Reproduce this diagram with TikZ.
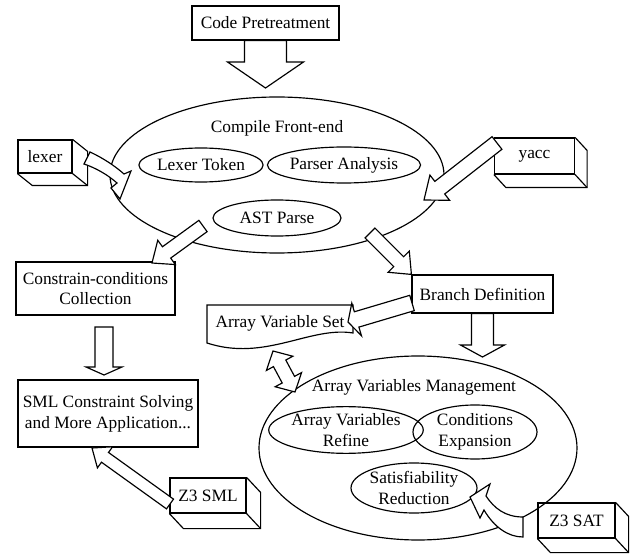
\documentclass[tikz,border=0pt]{standalone}
\usepackage{fontspec}
\setmainfont{Liberation Serif}
\usepackage{tikz}
\usetikzlibrary{calc,shapes.geometric}

\tikzset{
  box/.style={draw, rectangle, inner sep=0pt, align=center},
  ell/.style={draw, ellipse, inner sep=0pt, align=center},
  blk/.style={draw, fill=white, line join=miter}
}
% hollow block arrow: start, tip, half shaft, half head, head length (px)
\newcommand{\blockarrow}[5]{%
  \coordinate (ba-s) at #1; \coordinate (ba-e) at #2;
  \coordinate (ba-h) at ($(ba-e)!#5*0.6pt!(ba-s)$);
  \draw[blk] ($(ba-s)!#3*0.6pt!90:(ba-e)$) -- ($(ba-h)!#3*0.6pt!90:(ba-e)$) -- ($(ba-h)!#4*0.6pt!90:(ba-e)$) -- (ba-e) -- ($(ba-h)!#4*0.6pt!-90:(ba-e)$) -- ($(ba-h)!#3*0.6pt!-90:(ba-e)$) -- ($(ba-s)!#3*0.6pt!-90:(ba-e)$) -- cycle;}
\newcommand{\dblarrow}[5]{%
  \coordinate (ba-s) at #1; \coordinate (ba-e) at #2;
  \coordinate (ba-h) at ($(ba-e)!#5*0.6pt!(ba-s)$);
  \coordinate (ba-g) at ($(ba-s)!#5*0.6pt!(ba-e)$);
  \draw[blk] (ba-s) -- ($(ba-g)!#4*0.6pt!90:(ba-e)$) -- ($(ba-g)!#3*0.6pt!90:(ba-e)$) -- ($(ba-h)!#3*0.6pt!90:(ba-e)$) -- ($(ba-h)!#4*0.6pt!90:(ba-e)$) -- (ba-e) -- ($(ba-h)!#4*0.6pt!-90:(ba-e)$) -- ($(ba-h)!#3*0.6pt!-90:(ba-e)$) -- ($(ba-g)!#3*0.6pt!-90:(ba-e)$) -- ($(ba-g)!#4*0.6pt!-90:(ba-e)$) -- cycle;}
% depth of a 3d box
\newcommand{\boxdepth}[3]{%
  \draw (#1.north east) -- ++(#2,#3) -- ($(#1.south east)+(#2,#3)$) -- ($(#1.south west)+(#2,#3)$) -- (#1.south west);
  \draw (#1.south east) -- ++(#2,#3);}

\begin{document}
\begin{tikzpicture}[x=0.6pt, y=-0.6pt, line width=0.7pt, font=\fontsize{10.4pt}{12.5pt}\selectfont]
\useasboundingbox (0,0) rectangle (636,554);

\node (pre) [box, minimum width=88.2pt, minimum height=20.4pt] at (265.5,23) {Code Pretreatment};

% compile front-end
\node (front) [ell, minimum width=200.4pt, minimum height=93.6pt] at (277,175) {};
\node (fronttxt) at (277,128) {Compile Front-end};
\node (lextok) [ell, minimum width=72pt, minimum height=20.4pt] at (201,165) {Lexer Token};
\node (parser) [ell, minimum width=69.6pt, minimum height=21.6pt] at (344,165) {Parser Analysis};
\node (ast) [ell, minimum width=76.8pt, minimum height=21.6pt] at (277,218) {AST Parse};

\node (lexer) [box, minimum width=32.4pt, minimum height=19.8pt] at (45,156.5) {lexer};
\boxdepth{lexer}{15}{12}
\node (yacc) [box, minimum width=48pt, minimum height=21.6pt] at (534.5,156) {yacc};
\boxdepth{yacc}{12}{13}

\node (cons) [box, minimum width=95.4pt, minimum height=31.8pt] at (95.5,288.5) {Constrain-conditions\\Collection};
\node (sml) [box, minimum width=108pt, minimum height=40.2pt] at (108,413.5) {SML Constraint Solving\\and More Application...};
\node (z3sml) [box, minimum width=45.6pt, minimum height=21pt] at (208,495.5) {Z3 SML};
\boxdepth{z3sml}{14}{15}

\node (branch) [box, minimum width=84.6pt, minimum height=22.8pt] at (482.5,294) {Branch Definition};
\draw (207,305) -- (353,305) -- (353,333) .. controls (310,326) and (265,362) .. (207,343) -- cycle;
\node (arrset) at (280,323) {Array Variable Set};

% array variables management
\node (mgmt) [ell, minimum width=190.8pt, minimum height=110.4pt] at (418,448) {};
\node (mgmttxt) at (414,387) {Array Variables Management};
\node (refine) [ell, minimum width=79.2pt, minimum height=27.6pt] at (346,430) {Array Variables\\Refine};
\node (expand) [ell, minimum width=74.4pt, minimum height=32.4pt] at (475,432) {Conditions\\Expansion};
\node (satred) [ell, minimum width=75.6pt, minimum height=30pt] at (414,488) {Satisfiability\\Reduction};
\node (z3sat) [box, minimum width=46.2pt, minimum height=21pt] at (576.5,520.5) {Z3 SAT};
\boxdepth{z3sat}{13}{14}

% arrows
\coordinate (pre-tip) at (265.5,88);
\blockarrow{(pre.south)}{(pre-tip)}{21}{38}{26}
\draw[blk] (90,152) .. controls (103,158) and (115,166) .. (124,174) -- (131,171) -- (120,199) -- (111,188) -- (117,183) .. controls (108,175) and (96,168) .. (84,164) -- cycle;
\coordinate (yacc-out) at (497,143);
\coordinate (front-r) at (424,200);
\blockarrow{(yacc-out)}{(front-r)}{8}{16}{20}
\coordinate (front-l) at (203,226);
\coordinate (cons-in) at (152,263);
\blockarrow{(front-l)}{(cons-in)}{7}{15}{18}
\coordinate (front-b) at (370,233);
\blockarrow{(front-b)}{(branch.north west)}{7}{15}{18}
\coordinate (cons-out) at (104,327);
\coordinate (sml-in) at (104,375);
\blockarrow{(cons-out)}{(sml-in)}{9}{18}{8}
\coordinate (z3sml-out) at (170,504);
\coordinate (sml-b) at (92,448);
\blockarrow{(z3sml-out)}{(sml-b)}{6}{13}{16}
\coordinate (branch-out) at (412,303);
\coordinate (arrset-in) at (348,322);
\blockarrow{(branch-out)}{(arrset-in)}{8}{17}{9}
\coordinate (mgmt-in) at (482.5,357);
\blockarrow{(branch.south)}{(mgmt-in)}{11}{22}{12}
\coordinate (arrset-b) at (273,351);
\coordinate (mgmt-t) at (295,392);
\dblarrow{(arrset-b)}{(mgmt-t)}{7}{15}{14}
\draw[blk] (523,517) .. controls (505,517) and (494,508) .. (486,496) -- (490,484) -- (470,497) -- (480,518) -- (484,510) .. controls (494,527) and (508,537) .. (523,537) -- cycle;
\end{tikzpicture}
\end{document}
